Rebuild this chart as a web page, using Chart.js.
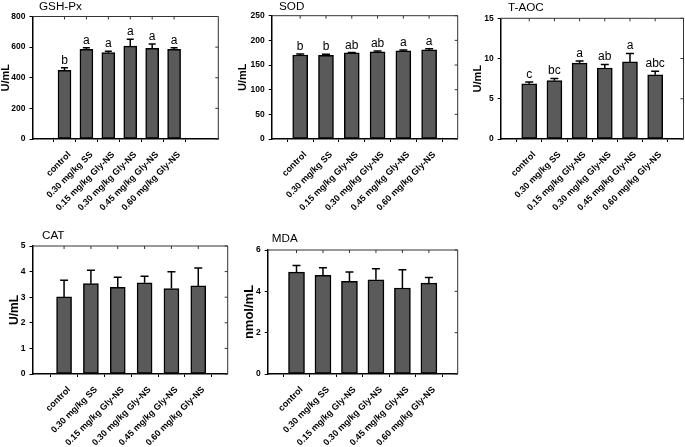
<!DOCTYPE html>
<html><head><meta charset="utf-8">
<script src="https://cdn.jsdelivr.net/npm/chart.js@4.4.1/dist/chart.umd.min.js"></script>
<style>
html,body{margin:0;padding:0;background:#fff;}
#wrap{position:relative;width:685px;height:447px;overflow:hidden;background:#fff}
canvas{position:absolute}
</style></head><body><div id="wrap">
<canvas id="c1"></canvas><canvas id="c2"></canvas><canvas id="c3"></canvas><canvas id="c4"></canvas><canvas id="c5"></canvas>
</div>
<script>
// ---------- data ----------
const categories = ['control', '0.30 mg/kg SS', '0.15 mg/kg Gly-NS', '0.30 mg/kg Gly-NS', '0.45 mg/kg Gly-NS', '0.60 mg/kg Gly-NS'];

const gshMeans = [449, 586, 564, 607, 592, 586];
const gshSD = [17, 10, 9, 44, 28, 10];
const gshLetters = ['b', 'a', 'a', 'a', 'a', 'a'];
const gshTicks = [0, 200, 400, 600, 800];

const sodMeans = [170.3, 169.8, 174.5, 176.6, 178.6, 180.6];
const sodSD = [2.0, 2.0, 0.8, 2.0, 2.0, 2.6];
const sodLetters = ['b', 'b', 'ab', 'ab', 'a', 'a'];
const sodTicks = [0, 50, 100, 150, 200, 250];

const taocMeans = [6.85, 7.25, 9.42, 8.82, 9.58, 7.98];
const taocSD = [0.24, 0.28, 0.26, 0.45, 1.05, 0.45];
const taocLetters = ['c', 'bc', 'a', 'ab', 'a', 'abc'];
const taocTicks = [0, 5, 10, 15];

const catMeans = [3.01, 3.53, 3.39, 3.56, 3.34, 3.44];
const catSD = [0.65, 0.52, 0.39, 0.26, 0.65, 0.70];
const catLetters = ['', '', '', '', '', ''];
const catTicks = [0, 1, 2, 3, 4, 5];

const mdaMeans = [4.93, 4.77, 4.48, 4.56, 4.16, 4.40];
const mdaSD = [0.32, 0.37, 0.45, 0.53, 0.88, 0.27];
const mdaLetters = ['', '', '', '', '', ''];
const mdaTicks = [0, 2, 4, 6];

// ---------- layout (positions / sizes only) ----------
const FONT = '"Liberation Sans", Arial, sans-serif';
const panels = [
  {id:'c1', title:'GSH-Px', yTitle:'U/mL', means:gshMeans, sd:gshSD, letters:gshLetters, yTicks:gshTicks,
   box:[0,0,226,235], area:[32.5,16.5,218.3,139], xRange:[-0.753,6.31], bar:13, cap:7, titlePos:[39,10], yTitleC:5.5, yTitleSize:11},
  {id:'c2', title:'SOD', yTitle:'U/mL', means:sodMeans, sd:sodSD, letters:sodLetters, yTicks:sodTicks,
   box:[226,0,236,235], area:[271.7,15.7,457.7,139], xRange:[-0.504,5.507], bar:15, cap:8, titlePos:[279,10], yTitleC:242.5, yTitleSize:11},
  {id:'c3', title:'T-AOC', yTitle:'U/mL', means:taocMeans, sd:taocSD, letters:taocLetters, yTicks:taocTicks,
   box:[462,0,223,235], area:[500.7,18.3,683.5,139], xRange:[-0.528,5.52], bar:15, cap:8, titlePos:[508,11], yTitleC:477.5, yTitleSize:11},
  {id:'c4', title:'CAT', yTitle:'U/mL', means:catMeans, sd:catSD, letters:catLetters, yTicks:catTicks,
   box:[0,222,236,225], area:[32.5,246,227.7,374], xRange:[-0.57,5.49], bar:15, cap:8, titlePos:[42,239], yTitleC:14.6, yTitleSize:12},
  {id:'c5', title:'MDA', yTitle:'nmol/mL', means:mdaMeans, sd:mdaSD, letters:mdaLetters, yTicks:mdaTicks,
   box:[236,222,226,225], area:[267.7,250,457.7,374], xRange:[-0.49,5.49], bar:16, cap:8, titlePos:[271.7,242], yTitleC:249.5, yTitleSize:13}
];

const extrasPlugin = {
  id: 'extras',
  afterDatasetsDraw(chart, args, o) {
    const {ctx, chartArea: a, scales: {x, y}} = chart;
    ctx.save();
    // mirrored frame (top & right)
    ctx.strokeStyle = '#333'; ctx.lineWidth = 1;
    ctx.beginPath();
    ctx.moveTo(a.left, a.top); ctx.lineTo(a.right, a.top); ctx.lineTo(a.right, a.bottom);
    o.means.forEach((m, i) => { const px = x.getPixelForValue(i); ctx.moveTo(px, a.top); ctx.lineTo(px, a.top + 3); });
    y.ticks.forEach(t => { const py = y.getPixelForValue(t.value); ctx.moveTo(a.right, py); ctx.lineTo(a.right - 3, py); });
    ctx.stroke();
    // error bars + significance letters
    ctx.strokeStyle = '#000'; ctx.lineWidth = 1.5;
    ctx.font = '12px ' + FONT; ctx.fillStyle = '#000'; ctx.textAlign = 'center'; ctx.textBaseline = 'alphabetic';
    o.means.forEach((m, i) => {
      const px = x.getPixelForValue(i);
      const y0 = y.getPixelForValue(m), y1 = y.getPixelForValue(m + o.sd[i]);
      ctx.beginPath();
      ctx.moveTo(px, y0); ctx.lineTo(px, y1);
      ctx.moveTo(px - o.cap / 2, y1); ctx.lineTo(px + o.cap / 2, y1);
      ctx.stroke();
      if (o.letters[i]) ctx.fillText(o.letters[i], px, y1 - 4);
    });
    // panel title
    ctx.font = '11.7px ' + FONT; ctx.textAlign = 'left';
    ctx.fillText(o.title, o.titlePos[0] - o.box[0], o.titlePos[1] - o.box[1]);
    ctx.restore();
  }
};

function makeChart(p) {
  const cv = document.getElementById(p.id);
  const [bx, by, bw, bh] = p.box;
  const [al, at, ar, ab] = p.area;
  cv.style.left = bx + 'px'; cv.style.top = by + 'px';
  cv.style.width = bw + 'px'; cv.style.height = bh + 'px';
  cv.width = bw; cv.height = bh;
  const yW = al - bx, xH = by + bh - ab;
  new Chart(cv, {
    type: 'bar',
    data: { datasets: [{
      data: p.means.map((v, i) => ({x: i, y: v})),
      backgroundColor: '#5a5a5a', borderColor: '#000', borderWidth: 1.5,
      borderSkipped: false, barThickness: p.bar
    }]},
    options: {
      responsive: false, animation: false, devicePixelRatio: 1,
      layout: { padding: { top: at - by, right: bx + bw - ar, left: 0, bottom: 0 } },
      plugins: {
        legend: { display: false }, tooltip: { enabled: false }, title: { display: false },
        extras: { means: p.means, sd: p.sd, letters: p.letters, cap: p.cap, title: p.title, titlePos: p.titlePos, box: p.box }
      },
      scales: {
        x: {
          type: 'linear', min: p.xRange[0], max: p.xRange[1],
          afterBuildTicks: s => { s.ticks = categories.map((c, i) => ({value: i})); },
          afterFit: s => { s.height = xH; s.paddingLeft = 0; s.paddingRight = 0; },
          grid: { display: true, drawOnChartArea: false, drawTicks: true, tickLength: 3, color: '#000', lineWidth: 1 },
          border: { display: true, color: '#000', width: 1.5 },
          ticks: { autoSkip: false, minRotation: 45, maxRotation: 45, padding: 7.5, labelOffset: 5, color: '#000',
                   font: { family: FONT, size: 9, weight: 'bold' },
                   callback: v => categories[v] !== undefined ? categories[v] : '' }
        },
        y: {
          type: 'linear', min: p.yTicks[0], max: p.yTicks[p.yTicks.length - 1],
          afterBuildTicks: s => { s.ticks = p.yTicks.map(v => ({value: v})); },
          afterFit: s => { s.width = yW; s.paddingTop = 0; s.paddingBottom = 0; },
          grid: { display: true, drawOnChartArea: false, drawTicks: true, tickLength: 3, color: '#000', lineWidth: 1 },
          border: { display: true, color: '#000', width: 1.5 },
          ticks: { padding: 4, color: '#000', font: { family: FONT, size: 8.5, weight: 'bold' } },
          title: { display: true, text: p.yTitle, color: '#000',
                   font: { family: FONT, size: p.yTitleSize, weight: 'bold', lineHeight: 1 },
                   padding: { top: Math.max(0, p.yTitleC - bx - p.yTitleSize / 2), bottom: 0 } }
        }
      }
    },
    plugins: [extrasPlugin]
  });
}
panels.forEach(makeChart);
</script>
</body></html>
